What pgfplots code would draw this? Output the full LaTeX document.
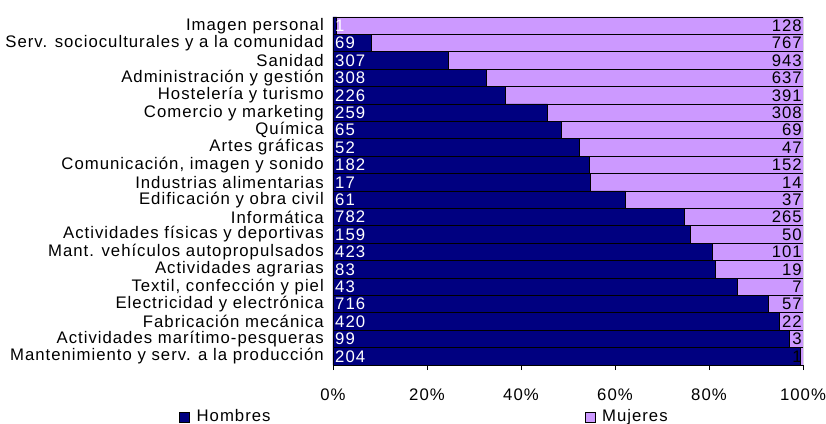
\documentclass[border=0pt]{standalone}
\usepackage{fontspec}
\setmainfont[LetterSpace=6]{Liberation Sans}
\usepackage{pgfplots}
\usepackage{pgfplotstable}
\pgfplotsset{compat=1.18}
\definecolor{hombres}{RGB}{0,0,128}
\definecolor{mujeres}{RGB}{204,153,255}

% idx 19 = top row
\pgfplotstableread{
idx h m
19 1 128
18 69 767
17 307 943
16 308 637
15 226 391
14 259 308
13 65 69
12 52 47
11 182 152
10 17 14
9 61 37
8 782 265
7 159 50
6 423 101
5 83 19
4 43 7
3 716 57
2 420 22
1 99 3
0 204 1
}\data
\pgfplotstablecreatecol[create col/expr={100*\thisrow{h}/(\thisrow{h}+\thisrow{m})}]{hp}\data
\pgfplotstablecreatecol[create col/expr={100*(\thisrow{h}+\thisrow{m})/(\thisrow{h}+\thisrow{m})}]{tot}\data

\begin{document}
\fontsize{16.8}{18}\selectfont
\begin{tikzpicture}
\path[use as bounding box] (-333bp,-59bp) rectangle (493bp,365bp);
\begin{axis}[
  at={(0,0)}, anchor=south west,
  scale only axis,
  width=470bp, height=348bp,
  xmin=0, xmax=100,
  ymin=-0.5, ymax=19.5,
  axis x line*=bottom,
  axis y line*=left,
  axis line style={black, line width=0.8pt},
  tick align=outside,
  major tick length=5bp,
  minor tick length=5bp,
  xtick={0,20,40,60,80,100},
  xticklabels={0\%,20\%,40\%,60\%,80\%,100\%},
  xticklabel style={yshift=-13bp},
  x tick style={black, line width=0.8pt},
  ytick={0,...,19},
  yticklabels={Mantenimiento y serv. a la producción,
    Actividades marítimo-pesqueras,
    Fabricación mecánica,
    Electricidad y electrónica,
    {Textil, confección y piel},
    Actividades agrarias,
    Mant. vehículos autopropulsados,
    Actividades físicas y deportivas,
    Informática,
    Edificación y obra civil,
    Industrias alimentarias,
    {Comunicación, imagen y sonido},
    Artes gráficas,
    Química,
    Comercio y marketing,
    Hostelería y turismo,
    Administración y gestión,
    Sanidad,
    Serv. socioculturales y a la comunidad,
    Imagen personal},
  y tick style={draw=none},
  minor ytick={-0.5,0.5,...,19.5},
  minor y tick style={black, line width=0.8pt},
  yticklabel style={xshift=-4bp, inner sep=0pt},
  /pgf/number format/assume math mode=true,
  legend columns=2,
  legend image code/.code={\draw[#1] (0bp,-5bp) rectangle (10bp,5bp);},
  legend style={at={(axis description cs:-0.328,-0.149)}, anchor=west,
    draw=none, fill=none, inner sep=0pt,
    /tikz/every odd column/.append style={column sep=6bp},
    /tikz/every even column/.append style={column sep=313bp},
    nodes={inner sep=1bp},
    legend cell align=left},
]
\addlegendimage{fill=hombres, draw=black, line width=0.6pt}
\addlegendentry{Hombres}
\addlegendimage{fill=mujeres, draw=black, line width=0.6pt}
\addlegendentry{Mujeres}

\addplot[xbar, bar shift=0pt, bar width=1, fill=mujeres, draw=black, line width=0.9pt, forget plot]
  table[x=tot, y=idx]{\data};
\addplot[xbar, bar shift=0pt, bar width=1, fill=hombres, draw=black, line width=0.9pt, forget plot]
  table[x=hp, y=idx]{\data};

\addplot[draw=none, mark=none, forget plot,
  nodes near coords, point meta=explicit symbolic,
  every node near coord/.append style={anchor=west, text=white, inner sep=1bp, xshift=1bp}]
  table[x expr=0, y=idx, meta=h]{\data};
\addplot[draw=none, mark=none, forget plot,
  nodes near coords, point meta=explicit symbolic,
  every node near coord/.append style={anchor=east, text=black, inner sep=1bp}]
  table[x=tot, y=idx, meta=m]{\data};
\end{axis}
\end{tikzpicture}
\end{document}
